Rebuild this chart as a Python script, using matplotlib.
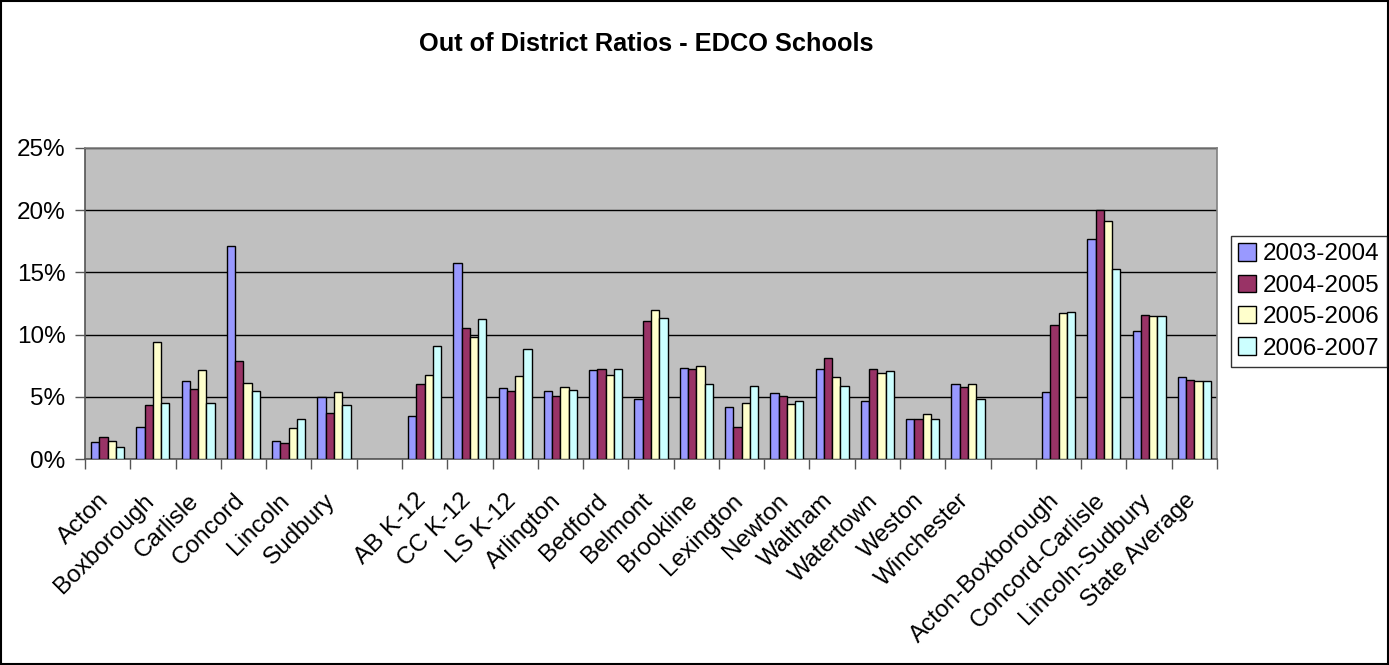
import numpy as np
import matplotlib
matplotlib.use("Agg")
import matplotlib.pyplot as plt
from matplotlib.patches import Rectangle
from matplotlib.ticker import FuncFormatter

plt.rcParams['font.family'] = ['Liberation Sans', 'DejaVu Sans']

schools = ["Acton", "Boxborough", "Carlisle", "Concord", "Lincoln", "Sudbury", "",
           "AB K-12", "CC K-12", "LS K-12", "Arlington", "Bedford", "Belmont",
           "Brookline", "Lexington", "Newton", "Waltham", "Watertown", "Weston",
           "Winchester", "", "Acton-Boxborough", "Concord-Carlisle",
           "Lincoln-Sudbury", "State Average"]

nan = np.nan
y0304 = [1.37, 2.57, 6.27, 17.16, 1.47, 5.01, nan, 3.43, 15.76, 5.68, 5.47, 7.16, 4.80,
         7.35, 4.21, 5.28, 7.24, 4.69, 3.22, 6.06, nan, 5.39, 17.67, 10.29, 6.57]
y0405 = [1.77, 4.32, 5.60, 7.86, 1.29, 3.70, nan, 6.06, 10.56, 5.50, 5.09, 7.24, 11.07,
         7.24, 2.55, 5.09, 8.12, 7.24, 3.22, 5.79, nan, 10.78, 20.0, 11.58, 6.38]
y0506 = [1.45, 9.41, 7.16, 6.09, 2.47, 5.39, nan, 6.76, 9.79, 6.68, 5.76, 6.76, 11.96,
         7.45, 4.50, 4.40, 6.57, 6.92, 3.59, 6.06, nan, 11.74, 19.12, 11.47, 6.27]
y0607 = [0.99, 4.50, 4.50, 5.50, 3.24, 4.32, nan, 9.09, 11.26, 8.82, 5.58, 7.24, 11.34,
         6.06, 5.87, 4.66, 5.87, 7.05, 3.22, 4.80, nan, 11.85, 15.28, 11.47, 6.27]

years = ["2003-2004", "2004-2005", "2005-2006", "2006-2007"]
colors = ["#9999FF", "#993366", "#FFFFCC", "#CCFFFF"]
series = [y0304, y0405, y0506, y0607]

fs = 17.5

fig = plt.figure(figsize=(13.89, 6.65), dpi=100)
ax = fig.add_axes([85/1389, 1 - 459/665, (1217 - 85)/1389, (459 - 148)/665])
ax.set_facecolor("#C0C0C0")

x = np.arange(len(schools))
w = 0.183
for i, (vals, c, lab) in enumerate(zip(series, colors, years)):
    ax.bar(x + (i - 1.5) * w, vals, w, color=c, edgecolor="black", linewidth=1.0,
           label=lab, zorder=3)

ax.set_xlim(-0.5, len(schools) - 0.5)
ax.set_ylim(0, 25)
ax.set_yticks([0, 5, 10, 15, 20, 25])
ax.yaxis.set_major_formatter(FuncFormatter(lambda v, p: "%d%%" % v))
ax.grid(axis="y", color="black", linewidth=1.0, zorder=1)
ax.set_axisbelow(True)

# label anchors sit a little left of the category centre, like Excel draws them
ax.set_xticks(x - 0.22)
ax.set_xticklabels(schools, rotation=45, ha="right", rotation_mode="anchor", fontsize=fs)
ax.set_xticks(np.arange(-0.5, len(schools)), minor=True)
ax.tick_params(axis="x", which="major", length=0, pad=22)
ax.tick_params(axis="x", which="minor", length=7, width=1, direction="out", color="#555555")
ax.tick_params(axis="y", length=7, width=1, direction="out", labelsize=fs, pad=7, color="#555555")

for s in ["top", "right"]:
    ax.spines[s].set_color("#808080")
    ax.spines[s].set_linewidth(1.2)
for s in ["left", "bottom"]:
    ax.spines[s].set_color("#555555")
    ax.spines[s].set_linewidth(1.2)

fig.text(646/1389, 1 - 44/665, "Out of District Ratios - EDCO Schools", ha="center", va="center",
         fontsize=18.3, fontweight="bold")

leg = fig.legend(loc="upper left", bbox_to_anchor=(1231/1389, 1 - 236/665), fontsize=fs,
                 frameon=True, fancybox=False, edgecolor="black", handlelength=0.72,
                 handleheight=0.72, handletextpad=0.3, labelspacing=0.38, borderpad=0.3,
                 borderaxespad=0)
leg.get_frame().set_linewidth(1.0)

fig.patches.append(Rectangle((0.0005, 0.001), 0.9985, 0.997, transform=fig.transFigure,
                             fill=False, edgecolor="black", linewidth=1.5))

fig.savefig("out.png", dpi=100)
